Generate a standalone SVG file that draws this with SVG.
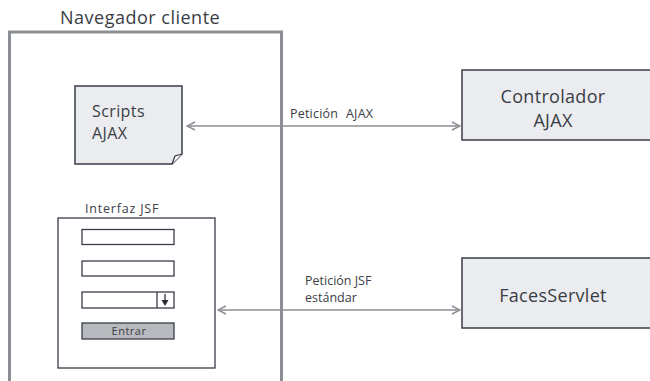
<svg xmlns="http://www.w3.org/2000/svg" width="650" height="381" viewBox="0 0 650 381">
  <defs>
    <style>
      .t { font-family: "Open Sans", "Noto Sans", sans-serif; fill: #3a3d45; }
      .big { font-size: 18px; letter-spacing: 0.3px; }
      .lbl { font-size: 12.5px; }
      .node { fill: #ebecf0; stroke: #3a3d48; stroke-width: 1.5; }
      .field { fill: #ffffff; stroke: #3a3d48; stroke-width: 1.3; }
      .link { stroke: #8c8e94; stroke-width: 1.6; fill: none; }
    </style>
    <marker id="chev" viewBox="0 0 10 10" refX="9" refY="5" markerWidth="10" markerHeight="10" markerUnits="userSpaceOnUse" orient="auto-start-reverse">
      <path d="M1,1 L9,5 L1,9" fill="none" stroke="#8c8e94" stroke-width="1.5"/>
    </marker>
  </defs>
  <rect width="650" height="381" fill="#ffffff"/>

  <!-- Browser container -->
  <g id="navegador">
    <text class="t" x="60" y="24" font-size="18" letter-spacing="0.5">Navegador cliente</text>
    <path d="M9.5,385 V32 H281.5 V385" fill="none" stroke="#8c8e96" stroke-width="3"/>
  </g>

  <!-- Scripts document with folded corner -->
  <g id="scripts">
    <path class="node" d="M75,86 H182 V154 L172,164 H75 Z"/>
    <path d="M172,164 L175,156 L182,154" fill="#ffffff" stroke="#3a3d48" stroke-width="1.3"/>
    <text class="t" x="92" y="117" font-size="16" letter-spacing="0.4">Scripts</text>
    <text class="t" x="92" y="139" font-size="16" letter-spacing="0.4">AJAX</text>
  </g>

  <!-- JSF form mockup -->
  <g id="interfaz">
    <text class="t" x="85" y="213" font-size="12.5" letter-spacing="0.8">Interfaz JSF</text>
    <rect x="58" y="218" width="157" height="150" fill="#ffffff" stroke="#3a3d48" stroke-width="1.3"/>
    <rect class="field" x="82" y="229.5" width="92" height="15"/>
    <rect class="field" x="82" y="261" width="92" height="15"/>
    <rect class="field" x="82" y="292" width="92" height="16"/>
    <line x1="157" y1="292" x2="157" y2="308" stroke="#3a3d48" stroke-width="1.3"/>
    <line x1="165" y1="294" x2="165" y2="302" stroke="#2a2d35" stroke-width="1.3"/>
    <path d="M161.5,300 L168.5,300 L165,306 Z" fill="#2a2d35"/>
    <rect x="82" y="323" width="92" height="16" fill="#b9bac0" stroke="#3a3d48" stroke-width="1.3"/>
    <text class="t" x="129" y="335" font-size="11" letter-spacing="0.5" text-anchor="middle">Entrar</text>
  </g>

  <!-- Server side -->
  <g id="controlador">
    <rect class="node" x="462" y="70" width="200" height="70"/>
    <text class="t big" x="553" y="103" text-anchor="middle">Controlador</text>
    <text class="t big" x="553" y="127" text-anchor="middle">AJAX</text>
  </g>
  <g id="facesservlet">
    <rect class="node" x="462" y="258" width="200" height="70"/>
    <text class="t big" x="553" y="302" text-anchor="middle">FacesServlet</text>
  </g>

  <!-- Requests -->
  <g id="connectors">
    <line class="link" x1="187" y1="126" x2="460" y2="126" marker-start="url(#chev)" marker-end="url(#chev)"/>
    <text class="t lbl" x="290" y="118" letter-spacing="0.2">Petición <tspan x="346">AJAX</tspan></text>
    <line class="link" x1="218" y1="310" x2="460" y2="310" marker-start="url(#chev)" marker-end="url(#chev)"/>
    <text class="t lbl" x="305" y="285">Petición JSF</text>
    <text class="t lbl" x="305" y="302">estándar</text>
  </g>
</svg>
